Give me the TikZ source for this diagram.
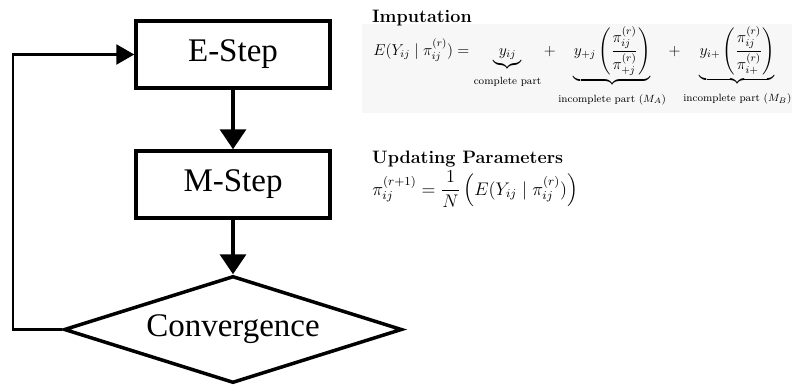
\documentclass[tikz,border=0pt]{standalone}
\usepackage{amsmath}
\usepackage{fontspec}
\newfontfamily\boxfont{Liberation Serif}
\usetikzlibrary{shapes.geometric,arrows.meta}

\begin{document}
\begin{tikzpicture}[x=1pt,y=-1pt]

        \useasboundingbox (0,0) rectangle (792,386);
        \fill[black!3] (362,24) rectangle (792,113);

        \begin{scope}[every node/.style={draw, line width=3.5pt, font=\boxfont\fontsize{33}{36}\selectfont}]
          \node[rectangle, minimum width=194pt, minimum height=67pt] (estep) at (233,54.5)  {E-Step};
          \node[rectangle, minimum width=194pt, minimum height=67pt] (mstep) at (233,184.5) {M-Step};
          \node[diamond, aspect=3.16, minimum width=338pt, minimum height=107pt, inner sep=0pt] (conv) at (233,329.5) {Convergence};
        \end{scope}

        \coordinate (loop) at (13,329.5);

        \begin{scope}[every edge/.style={draw, line width=3.5pt, -{Triangle[length=20pt,width=26pt]}}]
          \path (estep) edge (mstep);
          \path (mstep) edge (conv);
        \end{scope}
        \draw[line width=2.5pt, -{Triangle[length=18pt,width=20pt]}] (conv.west) -- (loop) |- (estep.west);

        \begin{scope}[every node/.style={anchor=base west, inner sep=0pt}]
          \node[font=\fontsize{18}{20}\selectfont\bfseries] (imptitle) at (372,22) {Imputation};
          \node[font=\fontsize{12}{14}\selectfont, scale=1.31] (impeq) at (373,55)
            {$E(Y_{ij}\mid\pi_{ij}^{(r)}) = \underbrace{y_{ij}}_{\rule{0pt}{10pt}\text{complete part}}
              + \underbrace{y_{+j}\left(\dfrac{\pi_{ij}^{(r)}}{\pi_{+j}^{(r)}}\right)}_{\rule{0pt}{11pt}\text{incomplete part }(M_A)}
              + \underbrace{y_{i+}\left(\dfrac{\pi_{ij}^{(r)}}{\pi_{i+}^{(r)}}\right)}_{\rule{0pt}{11pt}\text{incomplete part }(M_B)}$};
          \node[font=\fontsize{18}{20}\selectfont\bfseries] (updtitle) at (372,163) {Updating Parameters};
          \node[font=\fontsize{12}{14}\selectfont, scale=1.52] (updeq) at (372,195)
            {$\pi_{ij}^{(r+1)} = \dfrac{1}{N}\left(E(Y_{ij}\mid\pi_{ij}^{(r)})\right)$};
        \end{scope}

      \end{tikzpicture}
\end{document}
